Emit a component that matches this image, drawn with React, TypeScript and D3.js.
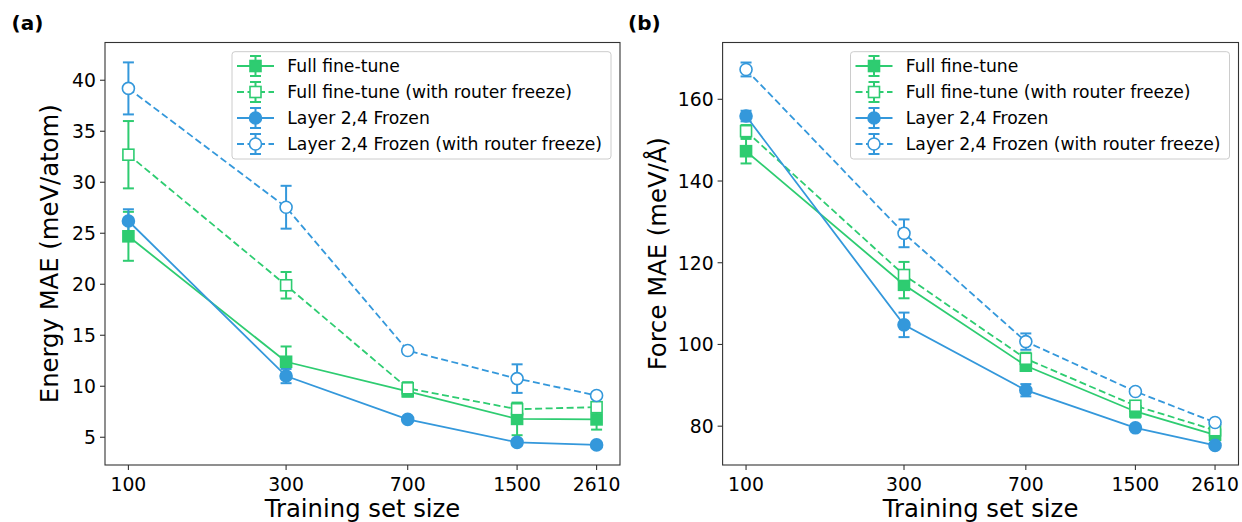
import React from 'react';
import * as d3 from 'd3';

const sizes = [100, 300, 700, 1500, 2610];

const seriesNames = [
  'Full fine-tune',
  'Full fine-tune (with router freeze)',
  'Layer 2,4 Frozen',
  'Layer 2,4 Frozen (with router freeze)',
];
const seriesColors = ['#2ecc71', '#2ecc71', '#3498db', '#3498db'];
const seriesMarkers = ['square', 'square', 'circle', 'circle'];
const seriesFilled = [true, false, true, false];
const seriesDashed = [false, true, false, true];

// Panel (a): Energy MAE (meV/atom)
const energyFull = [24.7, 12.4, 9.5, 6.8, 6.75];
const energyFullErr = [2.4, 1.5, 0.5, 1.6, 1.0];
const energyFullRouter = [32.7, 19.9, 9.8, 7.75, 7.95];
const energyFullRouterErr = [3.3, 1.3, 0.6, 0.6, 0.5];
const energyLayer = [26.2, 11.0, 6.75, 4.5, 4.25];
const energyLayerErr = [1.15, 0.7, 0.2, 0.3, 0.2];
const energyLayerRouter = [39.2, 27.55, 13.5, 10.75, 9.1];
const energyLayerRouterErr = [2.55, 2.1, 0.3, 1.4, 0.3];
const energyTicks = [5, 10, 15, 20, 25, 30, 35, 40];

// Panel (b): Force MAE (meV/Å)
const forceFull = [147.3, 114.6, 94.8, 83.6, 77.9];
const forceFullErr = [3.0, 3.3, 1.2, 1.5, 0.8];
const forceFullRouter = [152.2, 117.0, 96.5, 85.0, 79.0];
const forceFullRouterErr = [1.5, 3.2, 1.5, 1.0, 0.8];
const forceLayer = [155.9, 104.8, 88.8, 79.6, 75.3];
const forceLayerErr = [1.3, 3.0, 1.5, 0.6, 0.5];
const forceLayerRouter = [167.3, 127.2, 100.7, 88.5, 80.9];
const forceLayerRouterErr = [1.7, 3.4, 2.0, 0.7, 0.5];
const forceTicks = [80, 100, 120, 140, 160];

const FONT = 'DejaVu Sans, Verdana, sans-serif';

function Marker({ kind, filled, color, cx, cy }) {
  const fill = filled ? color : '#ffffff';
  if (kind === 'square') {
    const s = 11;
    return (
      <rect x={cx - s / 2} y={cy - s / 2} width={s} height={s} fill={fill}
        stroke={color} strokeWidth={1.6} />
    );
  }
  return <circle cx={cx} cy={cy} r={6} fill={fill} stroke={color} strokeWidth={1.6} />;
}

function Panel({ left, right, top, bottom, yDomain, yTicks, values, errors, ylabel, ylabelX, panelLabel, panelLabelX }) {
  const lo = Math.log10(d3.min(sizes));
  const hi = Math.log10(d3.max(sizes));
  const m = (hi - lo) * 0.05;
  const x = d3.scaleLog().domain([Math.pow(10, lo - m), Math.pow(10, hi + m)]).range([left, right]);
  const y = d3.scaleLinear().domain(yDomain).range([bottom, top]);
  const line = d3.line().x((d) => x(d[0])).y((d) => y(d[1]));
  const cap = 5.5;
  const legRight = right - 9;
  const legLeft = legRight - 379;
  const legTop = 51.7;
  const rowY = (i) => 66 + i * 26;

  return (
    <g>
      <text x={panelLabelX} y={30} fontSize={20} fontWeight="bold" fontFamily={FONT}>{panelLabel}</text>
      {values.map((vals, si) => (
        <g key={'e' + si} stroke={seriesColors[si]} strokeWidth={2}>
          {vals.map((v, i) => {
            const cx = x(sizes[i]);
            const y1 = y(v + errors[si][i]);
            const y2 = y(v - errors[si][i]);
            return (
              <g key={i}>
                <line x1={cx} x2={cx} y1={y1} y2={y2} />
                <line x1={cx - cap} x2={cx + cap} y1={y1} y2={y1} />
                <line x1={cx - cap} x2={cx + cap} y1={y2} y2={y2} />
              </g>
            );
          })}
        </g>
      ))}
      {values.map((vals, si) => (
        <g key={'l' + si}>
          <path d={line(vals.map((v, i) => [sizes[i], v]))} fill="none" stroke={seriesColors[si]}
            strokeWidth={1.8} strokeDasharray={seriesDashed[si] ? '7,3.5' : undefined} />
          {vals.map((v, i) => (
            <Marker key={i} kind={seriesMarkers[si]} filled={seriesFilled[si]} color={seriesColors[si]}
              cx={x(sizes[i])} cy={y(v)} />
          ))}
        </g>
      ))}
      <rect x={left} y={top} width={right - left} height={bottom - top} fill="none" stroke="#333" strokeWidth={1.1} />
      {sizes.map((s) => (
        <g key={s}>
          <line x1={x(s)} x2={x(s)} y1={bottom} y2={bottom + 5} stroke="#333" strokeWidth={1.1} />
          <text x={x(s)} y={490.5} textAnchor="middle" fontSize={18.8} fontFamily={FONT}>{s}</text>
        </g>
      ))}
      {yTicks.map((t) => (
        <g key={t}>
          <line x1={left - 5} x2={left} y1={y(t)} y2={y(t)} stroke="#333" strokeWidth={1.1} />
          <text x={left - 9} y={y(t)} dy="0.36em" textAnchor="end" fontSize={18.8} fontFamily={FONT}>{t}</text>
        </g>
      ))}
      <text x={(left + right) / 2} y={516.5} textAnchor="middle" fontSize={24.3} fontFamily={FONT}>Training set size</text>
      <text transform={`translate(${ylabelX},${(top + bottom) / 2}) rotate(-90)`} textAnchor="middle"
        fontSize={24.3} fontFamily={FONT}>{ylabel}</text>
      <rect x={legLeft} y={legTop} width={legRight - legLeft} height={107.3} rx={3} fill="#ffffff" fillOpacity={0.8}
        stroke="#cccccc" strokeWidth={1} />
      {seriesNames.map((name, i) => {
        const cy = rowY(i);
        const hx0 = legLeft + 5;
        const hx1 = legLeft + 42;
        const mx = legLeft + 23.5;
        const c = seriesColors[i];
        return (
          <g key={name}>
            <line x1={hx0} x2={hx1} y1={cy} y2={cy} stroke={c} strokeWidth={1.8}
              strokeDasharray={seriesDashed[i] ? '7,3.5' : undefined} />
            <g stroke={c} strokeWidth={2}>
              <line x1={mx} x2={mx} y1={cy - 10} y2={cy + 10} />
              <line x1={mx - cap} x2={mx + cap} y1={cy - 10} y2={cy - 10} />
              <line x1={mx - cap} x2={mx + cap} y1={cy + 10} y2={cy + 10} />
            </g>
            <Marker kind={seriesMarkers[i]} filled={seriesFilled[i]} color={c} cx={mx} cy={cy} />
            <text x={legLeft + 55.3} y={cy} dy="0.36em" fontSize={17.2} fontFamily={FONT}>{name}</text>
          </g>
        );
      })}
    </g>
  );
}

export default function App() {
  return (
    <div style={{ position: 'absolute', left: 0, top: 0 }}>
      <svg width={1242} height={522} style={{ display: 'block', background: '#fff' }}>
        <Panel left={105} right={620} top={42.5} bottom={465} yDomain={[2.28, 43.7]} yTicks={energyTicks}
          values={[energyFull, energyFullRouter, energyLayer, energyLayerRouter]}
          errors={[energyFullErr, energyFullRouterErr, energyLayerErr, energyLayerRouterErr]}
          ylabel="Energy MAE (meV/atom)" ylabelX={58} panelLabel="(a)" panelLabelX={11.5} />
        <Panel left={722.6} right={1238.5} top={42.5} bottom={465} yDomain={[70.5, 173.9]} yTicks={forceTicks}
          values={[forceFull, forceFullRouter, forceLayer, forceLayerRouter]}
          errors={[forceFullErr, forceFullRouterErr, forceLayerErr, forceLayerRouterErr]}
          ylabel="Force MAE (meV/Å)" ylabelX={666} panelLabel="(b)" panelLabelX={628} />
      </svg>
    </div>
  );
}
